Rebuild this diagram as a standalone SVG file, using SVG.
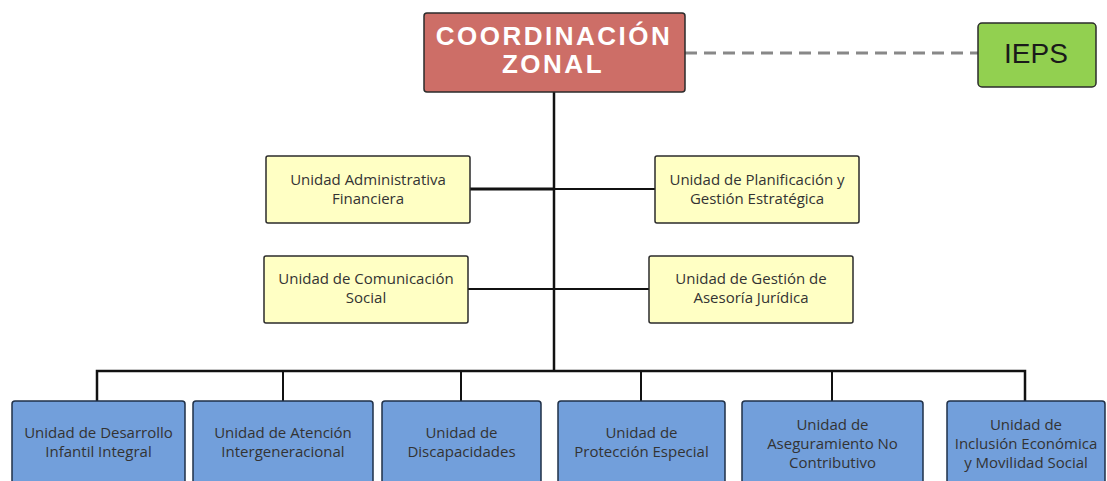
<svg xmlns="http://www.w3.org/2000/svg" width="1107" height="481" viewBox="0 0 1107 481">
<defs>
<style>
.box{stroke:#2b2b2b;stroke-width:1.5}
.red{fill:#CD6E67}
.green{fill:#92D050}
.yellow{fill:#FFFFC4}
.blue{fill:#729FDB;stroke:#1f3048}
.t{font-family:"Open Sans","Noto Sans","Liberation Sans",sans-serif;font-size:15px;fill:#333;text-anchor:middle}
.big{font-family:"Liberation Sans",Arial,sans-serif;font-weight:bold;text-anchor:middle}
.ln{stroke:#111;fill:none}
</style>
</defs>
<rect width="1107" height="481" fill="#ffffff"/>
<g id="connectors">
<line x1="685" y1="53" x2="978" y2="53" stroke="#888" stroke-width="3" stroke-dasharray="12 7"/>
<line class="ln" x1="554" y1="92" x2="554" y2="371" stroke-width="2.5"/>
<line class="ln" x1="470" y1="189" x2="554" y2="189" stroke-width="3"/>
<line class="ln" x1="554" y1="189" x2="655" y2="189" stroke-width="2" stroke="#555"/>
<line class="ln" x1="468" y1="289" x2="649" y2="289" stroke-width="2"/>
<polyline class="ln" points="97,401 97,371 1025,371 1025,401" stroke-width="2.5" stroke="#333"/>
<line class="ln" x1="283" y1="371" x2="283" y2="401" stroke-width="2"/>
<line class="ln" x1="461" y1="371" x2="461" y2="401" stroke-width="2" stroke="#444"/>
<line class="ln" x1="641" y1="371" x2="641" y2="401" stroke-width="2" stroke="#444"/>
<line class="ln" x1="832" y1="371" x2="832" y2="401" stroke-width="2"/>
</g>
<g id="coordinacion">
<rect class="box red" x="424" y="13" width="261" height="79" rx="3"/>
<text class="big" x="554" y="45" font-size="26" fill="#fff" letter-spacing="2.5">COORDINACIÓN</text>
<text class="big" x="553" y="73" font-size="26" fill="#fff" letter-spacing="2.5">ZONAL</text>
</g>
<g id="ieps">
<rect class="box green" x="978" y="23" width="118" height="64" rx="4"/>
<text x="1036" y="63" font-family="Liberation Sans, Arial, sans-serif" font-size="28" fill="#1a1a1a" text-anchor="middle">IEPS</text>
</g>
<g id="admin">
<rect class="box yellow" x="266" y="156" width="204" height="67" rx="2"/>
<text class="t" x="368" y="185">Unidad Administrativa</text>
<text class="t" x="368" y="204">Financiera</text>
</g>
<g id="planificacion">
<rect class="box yellow" x="655" y="156" width="204" height="67" rx="2"/>
<text class="t" x="757" y="185">Unidad de Planificación y</text>
<text class="t" x="757" y="204">Gestión Estratégica</text>
</g>
<g id="comunicacion">
<rect class="box yellow" x="264" y="256" width="204" height="67" rx="2"/>
<text class="t" x="366" y="284">Unidad de Comunicación</text>
<text class="t" x="366" y="303">Social</text>
</g>
<g id="juridica">
<rect class="box yellow" x="649" y="256" width="204" height="67" rx="2"/>
<text class="t" x="751" y="284">Unidad de Gestión de</text>
<text class="t" x="751" y="303">Asesoría Jurídica</text>
</g>
<g id="desarrollo">
<rect class="box blue" x="12" y="401" width="173" height="100" rx="3"/>
<text class="t" x="98.5" y="438">Unidad de Desarrollo</text>
<text class="t" x="98.5" y="457">Infantil Integral</text>
</g>
<g id="atencion">
<rect class="box blue" x="193" y="401" width="180" height="100" rx="3"/>
<text class="t" x="283" y="438">Unidad de Atención</text>
<text class="t" x="283" y="457">Intergeneracional</text>
</g>
<g id="discapacidades">
<rect class="box blue" x="382" y="401" width="159" height="100" rx="3"/>
<text class="t" x="461.5" y="438">Unidad de</text>
<text class="t" x="461.5" y="457">Discapacidades</text>
</g>
<g id="proteccion">
<rect class="box blue" x="558" y="401" width="167" height="100" rx="3"/>
<text class="t" x="641.5" y="438">Unidad de</text>
<text class="t" x="641.5" y="457">Protección Especial</text>
</g>
<g id="aseguramiento">
<rect class="box blue" x="742" y="401" width="181" height="100" rx="3"/>
<text class="t" x="832.5" y="430">Unidad de</text>
<text class="t" x="832.5" y="449">Aseguramiento No</text>
<text class="t" x="832.5" y="468">Contributivo</text>
</g>
<g id="inclusion">
<rect class="box blue" x="947" y="401" width="158" height="100" rx="3"/>
<text class="t" x="1026" y="430">Unidad de</text>
<text class="t" x="1026" y="449">Inclusión Económica</text>
<text class="t" x="1026" y="468">y Movilidad Social</text>
</g>
</svg>
